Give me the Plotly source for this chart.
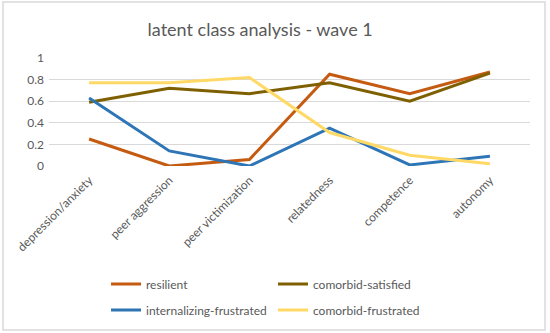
import plotly.graph_objects as go

categories = ["depression/anxiety", "peer aggression", "peer victimization",
              "relatedness", "competence", "autonomy"]
resilient = [0.25, 0.00, 0.06, 0.85, 0.67, 0.87]
comorbid_satisfied = [0.59, 0.72, 0.67, 0.77, 0.60, 0.86]
internalizing_frustrated = [0.63, 0.14, 0.00, 0.35, 0.01, 0.09]
comorbid_frustrated = [0.77, 0.77, 0.82, 0.31, 0.10, 0.02]

series = [
    ("resilient", resilient, "#C55A11", "legend"),
    ("comorbid-satisfied", comorbid_satisfied, "#7F6000", "legend"),
    ("internalizing-frustrated", internalizing_frustrated, "#2E75B6", "legend2"),
    ("comorbid-frustrated", comorbid_frustrated, "#FFD966", "legend2"),
]

fig = go.Figure()
for name, vals, color, lg in series:
    fig.add_trace(go.Scatter(x=categories, y=vals, name=name, mode="lines",
                             line=dict(color=color, width=3), legend=lg))

font_family = "Lato, Carlito, Calibri, sans-serif"
L, R, T, B = 49, 20, 58, 167
PW = 550 - L - R
PH = 333 - T - B


def py(pix):
    """pixel y (from top) -> paper y"""
    return (333 - B - pix) / PH


def px(pix):
    return (pix - L) / PW


legend_common = dict(orientation="h", xanchor="left", yanchor="middle",
                     entrywidth=122, entrywidthmode="pixels",
                     font=dict(size=12, color="#595959"), itemwidth=30,
                     bgcolor="rgba(0,0,0,0)")

fig.update_layout(
    width=550, height=333,
    margin=dict(l=L, r=R, t=T, b=B, autoexpand=False),
    paper_bgcolor="white", plot_bgcolor="white",
    title=dict(text="latent class analysis - wave 1", x=0.473, xanchor="center",
               y=0.91, yanchor="middle",
               font=dict(family=font_family, size=18, color="#595959")),
    font=dict(family=font_family, size=12, color="#595959"),
    xaxis=dict(tickangle=-45, showgrid=False, zeroline=False, ticks="",
               automargin=False, ticklabelstandoff=4,
               tickfont=dict(size=12, color="#595959"), range=[-0.5, 5.5]),
    yaxis=dict(range=[0, 1.0], dtick=0.2, showgrid=True, gridcolor="#D9D9D9",
               gridwidth=1, zeroline=False, ticks="", showline=False,
               automargin=False, ticklabelstandoff=4,
               tickfont=dict(size=12, color="#595959"), tickformat="~g"),
    legend=dict(x=px(106), y=py(284), **legend_common),
    legend2=dict(x=px(106), y=py(310), **legend_common),
    showlegend=True,
    shapes=[dict(type="rect", xref="paper", yref="paper",
                 x0=px(3), x1=px(545), y0=py(330), y1=py(2),
                 line=dict(color="#D9D9D9", width=1.5), fillcolor="rgba(0,0,0,0)")],
)

fig.write_html("out.html", config={"displayModeBar": False},
               post_script="document.body.style.margin='0';")
